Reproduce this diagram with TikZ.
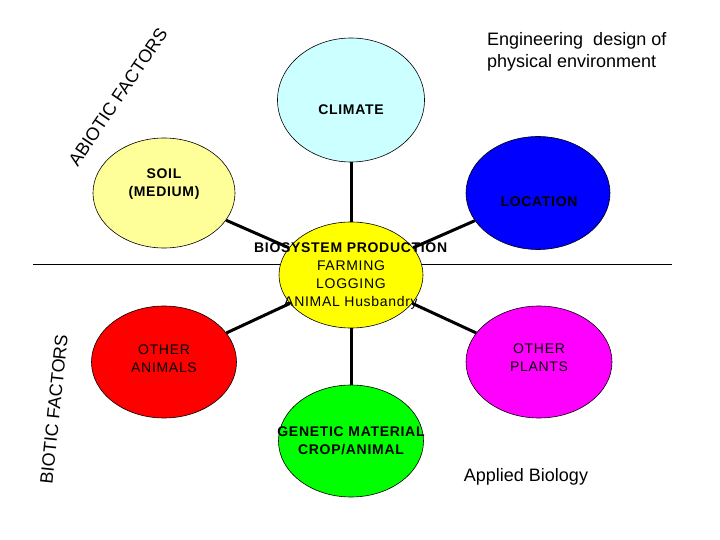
\documentclass[tikz,border=0pt]{standalone}
\usepackage{fontspec}
\setmainfont{Liberation Sans}
\usetikzlibrary{shapes.geometric}
\definecolor{climc}{HTML}{CCFFFF}
\definecolor{soilc}{HTML}{FFFF99}
\definecolor{locc}{HTML}{0000FF}
\definecolor{corec}{HTML}{FFFF00}
\definecolor{animc}{HTML}{FF0000}
\definecolor{plantc}{HTML}{FF00FF}
\definecolor{genc}{HTML}{00FF00}
\begin{document}
\begin{tikzpicture}[x=1pt,y=-1pt,
  blob/.style={ellipse,draw=black,line width=0.6pt,inner sep=0pt,minimum width=145pt,minimum height=112pt},
  spoke/.style={line width=3pt,black},
  boldlbl/.style={font=\fontsize{14}{18}\selectfont\addfontfeature{LetterSpace=5}\bfseries,align=center,inner sep=0pt},
  plainlbl/.style={font=\fontsize{14}{18}\selectfont\addfontfeature{LetterSpace=5},align=center,inner sep=0pt},
  biglbl/.style={font=\fontsize{18}{22}\selectfont,inner sep=0pt}
]
\useasboundingbox (0,0) rectangle (720,540);
% divider line
\coordinate (hl1) at (33,264);
\coordinate (hl2) at (672,264);
\draw[line width=0.8pt] (hl1) -- (hl2);
% ellipses
\node[blob,fill=climc,minimum width=147pt,minimum height=124pt] (clim) at (351,100) {};
\node[blob,fill=soilc,minimum width=142pt,minimum height=110pt] (soil) at (164,193) {};
\node[blob,fill=locc,minimum width=144pt,minimum height=113pt] (loc) at (538,193) {};
\node[blob,fill=animc] (anim) at (164,362) {};
\node[blob,fill=plantc,minimum width=146pt] (plant) at (539,362) {};
\node[blob,fill=genc] (gen) at (351,441) {};
\node[blob,fill=corec,minimum width=144pt,minimum height=106pt] (core) at (351,275) {};
% spokes
\draw[spoke] (core) -- (clim);
\draw[spoke] (core) -- (soil);
\draw[spoke] (core) -- (loc);
\draw[spoke] (core) -- (anim);
\draw[spoke] (core) -- (plant);
\draw[spoke] (core) -- (gen);
% labels
\node[boldlbl] (climt) at (351,110) {CLIMATE};
\node[boldlbl] (soilt) at (164,184) {SOIL\\(MEDIUM)};
\node[boldlbl] (loct) at (539,202) {LOCATION};
\node[plainlbl] (coret) at (351,276) {\textbf{BIOSYSTEM PRODUCTION}\\FARMING\\LOGGING\\ANIMAL Husbandry};
\node[plainlbl] (animt) at (164,359) {OTHER\\ANIMALS};
\node[plainlbl] (plantt) at (539,358) {OTHER\\PLANTS};
\node[boldlbl] (gent) at (351,441) {GENETIC MATERIAL\\CROP/ANIMAL};
\node[biglbl,align=left,anchor=west] (eng) at (487,52) {Engineering\ \ design of\\physical environment};
\node[biglbl] (appl) at (526,477) {Applied Biology};
\node[biglbl,rotate=56] (abio) at (118,97) {ABIOTIC FACTORS};
\node[biglbl,rotate=84] (bio) at (54,409) {BIOTIC FACTORS};
\end{tikzpicture}
\end{document}
